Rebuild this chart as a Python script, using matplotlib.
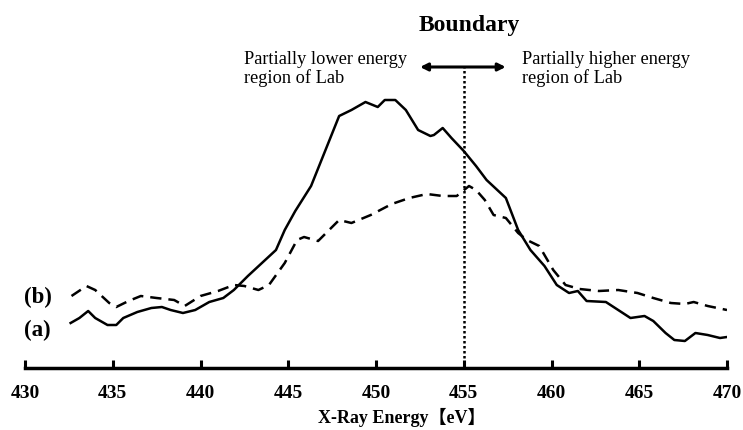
import matplotlib
matplotlib.use("Agg")
import matplotlib.pyplot as plt

# Curve (a): solid
energy_a = [432.6, 433.1, 433.6, 434.0, 434.7, 435.2, 435.6, 436.4, 437.2, 437.8, 438.3, 439.0,
            439.7, 440.5, 441.3, 441.9, 442.7, 443.5, 444.3, 444.8, 445.4, 446.3, 447.1, 447.9,
            448.6, 449.4, 450.1, 450.5, 451.1, 451.7, 452.4, 453.1, 453.3, 453.8, 454.3, 455.0,
            455.7, 456.3, 457.4, 458.1, 458.8, 459.6, 460.3, 461.0, 461.5, 462.0, 463.1, 463.8,
            464.5, 465.3, 465.8, 466.5, 467.0, 467.6, 468.2, 468.9, 469.6, 470.0]
intensity_a = [45, 50, 57, 50, 43, 43, 50, 56, 60, 61, 58, 55,
               58, 66, 70, 78, 92, 105, 118, 138, 157, 182, 217, 252,
               258, 266, 261, 268, 268, 258, 238, 232, 233, 240, 230, 217,
               202, 188, 170, 138, 118, 102, 83, 75, 77, 67, 66, 58,
               50, 52, 47, 35, 28, 27, 35, 33, 30, 31]

# Curve (b): dashed
energy_b = [432.65, 433.5, 434.0, 434.8, 435.2, 435.9, 436.6, 437.5, 438.5, 439.1, 440.0, 441.0,
            441.9, 442.5, 443.3, 443.9, 444.8, 445.5, 445.9, 446.7, 447.9, 448.6, 449.7, 450.9,
            451.9, 452.9, 453.8, 454.6, 455.3, 455.7, 456.2, 456.7, 457.4, 458.1, 458.6, 459.3,
            460.1, 460.8, 461.6, 462.7, 463.8, 464.9, 465.8, 466.8, 467.6, 468.1, 468.9, 470.0]
intensity_b = [72, 82, 78, 65, 61, 67, 72, 70, 68, 62, 72, 77,
               83, 82, 78, 83, 105, 128, 131, 127, 148, 145, 153, 164,
               170, 174, 172, 172, 182, 178, 168, 153, 150, 135, 128, 122,
               98, 83, 79, 77, 78, 75, 70, 65, 64, 66, 62, 58]

xticks = [430, 435, 440, 445, 450, 455, 460, 465, 470]
boundary = 455

serif = ['Liberation Serif', 'Noto Sans CJK JP']

fig = plt.figure(figsize=(7.43, 4.30), dpi=100)
ax = fig.add_axes([25/743, 1 - 368/430, 702/743, 368/430])
ax.set_xlim(430, 470)
ax.set_ylim(0, 368)

ax.plot(energy_a, intensity_a, color='black', lw=1.8, solid_joinstyle='round')
ax.plot(energy_b, intensity_b, color='black', lw=1.8, linestyle=(0, (4.5, 2.8)))
ax.plot([boundary, boundary], [0, 301], color='black', lw=1.8, linestyle=(0, (1, 1)))

ax.annotate('', xy=(452.35, 301), xytext=(457.55, 301),
            arrowprops=dict(arrowstyle='<|-|>', color='black', lw=2.2, mutation_scale=11))

ax.text(455.3, 343, 'Boundary', ha='center', va='center', fontsize=17,
        fontweight='bold', family=serif)
ax.text(442.5, 317, 'Partially lower energy\nregion of Lab', ha='left', va='top',
        fontsize=13.2, family=serif, linespacing=1.1)
ax.text(458.3, 317, 'Partially higher energy\nregion of Lab', ha='left', va='top',
        fontsize=13.2, family=serif, linespacing=1.1)

ax.text(429.95, 71, '(b)', ha='left', va='center', fontsize=16.5, fontweight='bold', family=serif)
ax.text(429.95, 38, '(a)', ha='left', va='center', fontsize=16.5, fontweight='bold', family=serif)

for s in ['top', 'right', 'left']:
    ax.spines[s].set_visible(False)
ax.spines['bottom'].set_linewidth(2.5)
ax.set_yticks([])
ax.set_xticks(xticks)
ax.tick_params(axis='x', direction='in', length=6, width=2.2, pad=12)
for lab in ax.get_xticklabels():
    lab.set_fontfamily(serif)
    lab.set_fontweight('bold')
    lab.set_fontsize(14)

fig.text(402 / 743, 1 - 417/430, 'X-Ray Energy【eV】', ha='center', va='center',
         fontsize=13, fontweight='bold', family=serif)

fig.savefig('out.png', dpi=100)
